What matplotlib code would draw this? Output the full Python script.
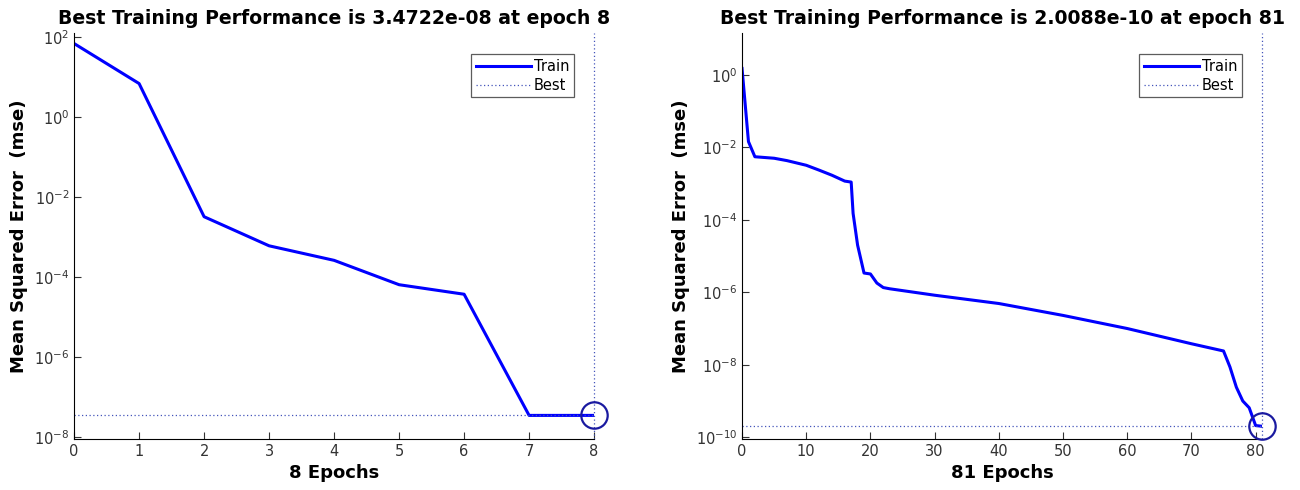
import matplotlib
matplotlib.use('Agg')
import matplotlib.pyplot as plt
import matplotlib.ticker as mticker

# left run: 8 epochs
ep_a = [0, 1, 2, 3, 4, 5, 6, 7, 8]
mse_a = [68, 6.8, 3.2e-3, 6.0e-4, 2.6e-4, 6.4e-5, 3.7e-5, 3.4722e-8, 3.4722e-8]
best_a = (8, 3.4722e-8)

# right run: 81 epochs
ep_b = [0, 1, 2, 5, 7, 10, 12, 14, 16, 17, 17.3, 18, 19, 20, 21, 22, 23,
        30, 40, 50, 60, 70, 75, 76, 77, 78, 79, 80, 81]
mse_b = [1.5, 1.44e-2, 5.5e-3, 5.0e-3, 4.3e-3, 3.2e-3, 2.35e-3, 1.7e-3, 1.17e-3,
         1.1e-3, 1.5e-4, 2.0e-5, 3.4e-6, 3.2e-6, 1.8e-6, 1.35e-6, 1.25e-6,
         8.3e-7, 4.9e-7, 2.3e-7, 1.0e-7, 3.8e-8, 2.4e-8, 8.7e-9, 2.4e-9,
         1.0e-9, 6.5e-10, 2.1e-10, 2.0088e-10]
best_b = (81, 2.0088e-10)

fig = plt.figure(figsize=(13, 4.9), dpi=100)

def panel(rect, ep, mse, best, xlim, ylim, xticks, yticks):
    ax = fig.add_axes(rect)
    ax.plot(ep, mse, color=(0, 0, 1), lw=2.2, label='Train')
    ax.axhline(best[1], color='#4455bb', lw=0.9, ls=(0, (1, 2)), label='Best')
    ax.axvline(best[0], color='#4455bb', lw=0.9, ls=(0, (1, 2)), clip_on=False)
    ax.plot(best[0], best[1], 'o', ms=19, mfc='none', mec='#1a1aa0', mew=1.6,
            clip_on=False, zorder=5)
    ax.set_yscale('log')
    ax.set_xlim(*xlim)
    ax.set_ylim(*ylim)
    ax.set_xticks(xticks)
    ax.set_yticks(yticks)
    ax.yaxis.set_minor_locator(mticker.NullLocator())
    ax.spines['top'].set_visible(False)
    ax.spines['right'].set_visible(False)
    ax.tick_params(direction='in', length=5, labelsize=10.5, colors='#333333')
    ax.set_title('Best Training Performance is %s at epoch %d' % (
        '%.4e' % best[1], best[0]), fontsize=13.6, fontweight='bold', pad=6)
    ax.set_xlabel('%d Epochs' % best[0], fontsize=13, fontweight='bold')
    ax.set_ylabel('Mean Squared Error  (mse)', fontsize=13, fontweight='bold')
    leg = ax.legend(loc='upper right', bbox_to_anchor=(0.975, 0.965), fancybox=False,
                    edgecolor='#333333', fontsize=10.5, handlelength=3.8,
                    handletextpad=0.2, borderpad=0.3, labelspacing=0.3)
    leg.get_frame().set_linewidth(0.9)
    return ax

ax1 = panel([0.057, 0.104, 0.4, 0.829], ep_a, mse_a, best_a,
            (0, 8), (10 ** -8.05, 10 ** 2.1), range(0, 9),
            [1e-8, 1e-6, 1e-4, 1e-2, 1, 1e2])
ax2 = panel([0.5708, 0.104, 0.4, 0.829], ep_b, mse_b, best_b,
            (0, 81), (10 ** -10.05, 10 ** 1.16), range(0, 81, 10),
            [1e-10, 1e-8, 1e-6, 1e-4, 1e-2, 1])

fig.savefig('out.png', dpi=100, facecolor='white')
